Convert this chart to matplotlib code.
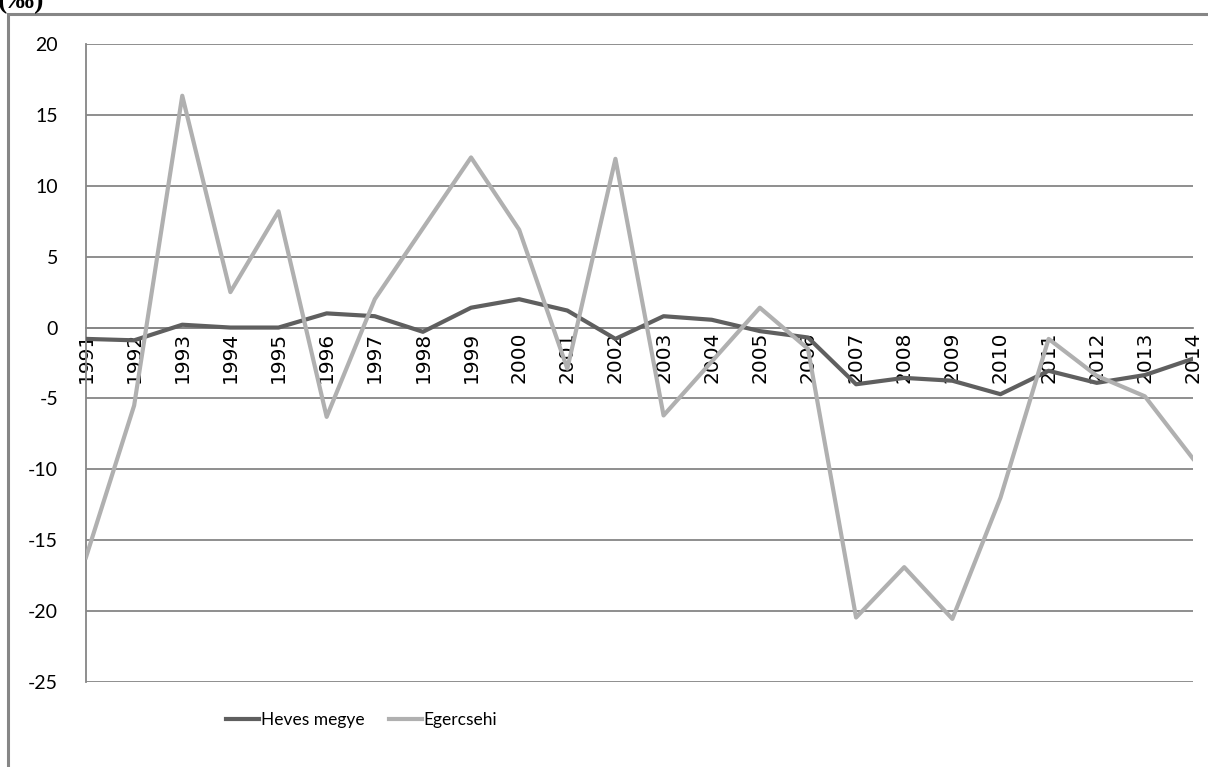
import matplotlib.pyplot as plt
from matplotlib.patches import Rectangle

years = [str(y) for y in range(1991, 2015)]

heves = [-0.8, -0.9, 0.2, 0.0, 0.0, 1.0, 0.8, -0.3, 1.4, 2.0, 1.2, -0.8,
         0.8, 0.55, -0.25, -0.7, -4.0, -3.55, -3.75, -4.7, -3.05, -3.9, -3.35, -2.2]
egercsehi = [-16.2, -5.5, 16.35, 2.5, 8.2, -6.3, 2.0, 7.0, 12.0, 6.9, -2.9, 11.9,
             -6.2, -2.4, 1.4, -1.5, -20.45, -16.9, -20.55, -12.0, -0.8, -3.4, -4.85, -9.25]

y_ticks = [20, 15, 10, 5, 0, -5, -10, -15, -20, -25]

grid_col = '#868686'

fig = plt.figure(figsize=(12.08, 7.67), dpi=100)
ax = fig.add_axes([86 / 1208, 1 - 682 / 767, (1193 - 86) / 1208, (682 - 44) / 767])

# category axis crosses at 0 (set before tick labels, it resets them)
ax.spines['bottom'].set_position(('data', 0))
ax.spines['bottom'].set_color(grid_col)
ax.spines['bottom'].set_linewidth(1.3)
ax.spines['left'].set_color(grid_col)
ax.spines['left'].set_linewidth(1.3)
ax.spines['top'].set_visible(False)
ax.spines['right'].set_visible(False)

x = list(range(len(years)))
ax.plot(x, heves, color='#5f5f5f', linewidth=3.0, label='Heves megye', zorder=3,
        solid_joinstyle='round')
ax.plot(x, egercsehi, color='#b0b0b0', linewidth=3.0, label='Egercsehi', zorder=4,
        solid_joinstyle='round')

ax.set_xlim(0, len(years) - 1)
ax.set_ylim(-25, 20)
ax.set_yticks(y_ticks)
ax.set_yticklabels([str(v) for v in y_ticks], fontfamily='Lato', fontsize=14)
ax.yaxis.grid(True, color=grid_col, linewidth=1.3)
ax.set_xticks(x)
ax.set_xticklabels(years, rotation=90, fontfamily='DejaVu Sans', fontsize=14.5)
ax.tick_params(axis='both', length=0)
ax.tick_params(axis='y', pad=20)
ax.tick_params(axis='x', pad=3)

leg = fig.legend(loc='center', bbox_to_anchor=(362 / 1208, 1 - 720 / 767), ncol=2,
                 frameon=False, prop={'family': 'Lato', 'size': 12.5},
                 handlelength=1.9, handletextpad=0.1, columnspacing=1.4)

# chart border
fig.add_artist(Rectangle((8 / 1208, -0.05), 1.1, 1 - 14 / 767 + 0.05,
                         transform=fig.transFigure, fill=False,
                         edgecolor=grid_col, linewidth=2.2))

fig.text(-2 / 1208, 1 - 8 / 767, '(‰)', fontfamily='Liberation Serif',
         fontweight='bold', fontsize=20, va='baseline', ha='left')

fig.savefig('out.png', dpi=100)
